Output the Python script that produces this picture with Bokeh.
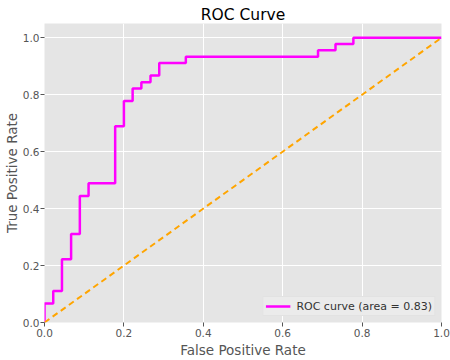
from bokeh.plotting import figure
from bokeh.embed import file_html
from bokeh.resources import INLINE
from bokeh.models import Range1d, Legend, LegendItem, FixedTicker, CustomJSTickFormatter

# ROC curve points (false positive rate, true positive rate)
fpr = [0.0, 0.0, 0.022, 0.022, 0.044, 0.044, 0.067, 0.067, 0.089, 0.089,
       0.111, 0.111, 0.178, 0.178, 0.200, 0.200, 0.222, 0.222, 0.244, 0.244,
       0.267, 0.267, 0.289, 0.289, 0.356, 0.356, 0.689, 0.689, 0.733, 0.733,
       0.778, 0.778, 1.0]
tpr = [0.0, 0.067, 0.067, 0.111, 0.111, 0.222, 0.222, 0.311, 0.311, 0.444,
       0.444, 0.489, 0.489, 0.689, 0.689, 0.778, 0.778, 0.822, 0.822, 0.844,
       0.844, 0.867, 0.867, 0.911, 0.911, 0.933, 0.933, 0.956, 0.956, 0.978,
       0.978, 1.0, 1.0]
chance_x = [0.0, 1.0]
chance_y = [0.0, 1.0]
roc_label = "ROC curve (area = 0.83)"
tick_values = [0.0, 0.2, 0.4, 0.6, 0.8, 1.0]

p = figure(width=450, height=360, output_backend="svg", toolbar_location=None,
           x_range=Range1d(0.0, 1.0), y_range=Range1d(0.0, 1.05),
           title="ROC Curve", x_axis_label="False Positive Rate",
           y_axis_label="True Positive Rate")
p.min_border_left = 44
p.min_border_right = 9
p.min_border_top = 23
p.min_border_bottom = 37
p.background_fill_color = "#E5E5E5"
p.border_fill_color = "white"
p.outline_line_color = None

p.title.text_font = "DejaVu Sans"
p.title.text_font_size = "15.5px"
p.title.text_font_style = "normal"
p.title.text_color = "black"
p.title.align = "center"
p.title.standoff = 0
p.title.offset = 0

for ax in (p.xaxis, p.yaxis):
    ax.ticker = FixedTicker(ticks=tick_values)
    ax.axis_line_color = None
    ax.major_tick_in = 0
    ax.major_tick_out = 4
    ax.major_tick_line_color = "#555555"
    ax.minor_tick_line_color = None
    ax.major_label_text_font = "DejaVu Sans"
    ax.major_label_text_font_size = "10.5px"
    ax.major_label_text_color = "#555555"
    ax.axis_label_text_font = "DejaVu Sans"
    ax.axis_label_text_font_size = "13.5px"
    ax.axis_label_text_font_style = "normal"
    ax.axis_label_text_color = "#555555"
    ax.major_label_standoff = 2
    ax.axis_label_standoff = 2
p.yaxis.axis_label_standoff = 0
p.yaxis.major_label_standoff = 1
fmt = CustomJSTickFormatter(code="return tick.toFixed(1);")
p.xaxis.formatter = fmt
p.yaxis.formatter = fmt

p.grid.grid_line_color = "white"
p.grid.grid_line_width = 1

roc = p.line(fpr, tpr, line_color="#FF00FF", line_width=2.5)
p.line(chance_x, chance_y, line_color="#FFA500", line_width=2, line_dash="6 4")

legend = Legend(items=[LegendItem(label=roc_label, renderers=[roc])],
                location="bottom_right")
legend.background_fill_color = "#EBEBEB"
legend.background_fill_alpha = 1.0
legend.border_line_color = "#DADADA"
legend.label_text_font = "DejaVu Sans"
legend.label_text_font_size = "11px"
legend.label_text_color = "#333333"
legend.glyph_width = 25
legend.glyph_height = 14
legend.padding = 2
legend.margin = 6
legend.spacing = 0
legend.label_standoff = 6
p.add_layout(legend)

open("out.html", "w").write(file_html(p, INLINE))
